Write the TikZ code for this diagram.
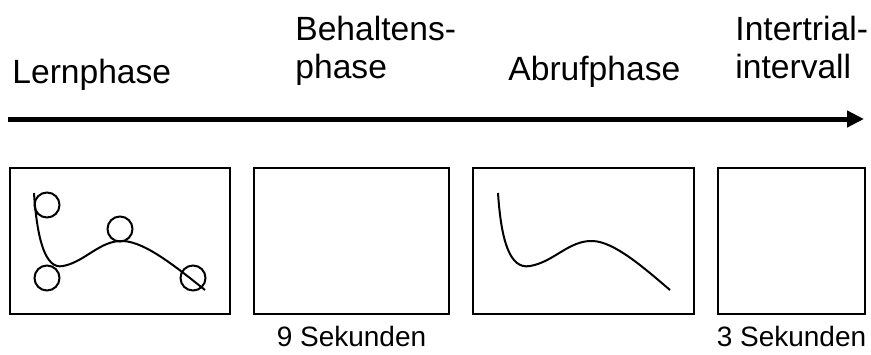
\documentclass[tikz,border=0pt]{standalone}
\usepackage{fontspec}
\setmainfont{Liberation Sans}
\usetikzlibrary{arrows.meta}

\tikzset{
	frame/.style={draw,line width=1pt,inner sep=0pt,minimum height=72.75pt},
	phase/.style={anchor=north west,align=left,inner sep=0pt,font=\fontsize{16.8}{19}\selectfont},
	dauer/.style={anchor=base,inner sep=0pt,font=\fontsize{14}{16}\selectfont},
	marke/.style={draw,circle,line width=1pt,minimum size=12.5pt,inner sep=0pt},
	verlauf/.style={line width=1pt}
}

\begin{document}
\begin{tikzpicture}[x=0.5pt,y=-0.5pt]
	\useasboundingbox (0,0) rectangle (871,354);
	
	% Phasen
	\node[phase] (lern) at (12,59) {Lernphase};
	\node[phase] (behalt) at (295,16) {Behaltens-\\phase};
	\node[phase] (abruf) at (508,56) {Abrufphase};
	\node[phase] (iti) at (735,16) {Intertrial-\\intervall};
	
	% Zeitachse
	\coordinate (t0) at (8,119);
	\coordinate (t1) at (864,119);
	\draw[line width=2.5pt,-{Triangle[length=8.5pt,width=8pt]}] (t0) -- (t1);
	
	% Bildschirme
	\node[frame,minimum width=110.25pt] (s1) at (120,241) {};
	\node[frame,minimum width=97.5pt] (s2) at (351.5,241) {};
	\node[frame,minimum width=110.5pt] (s3) at (583.5,241) {};
	\node[frame,minimum width=73.5pt] (s4) at (791.5,241) {};
	
	\draw[verlauf] (34,193) .. controls (37,238) and (45,270) .. (63,266)
		.. controls (85,262) and (100,240) .. (123,241)
		.. controls (145,242) and (175,266) .. (205,290);
	\node[marke] (m1) at (47,205) {};
	\node[marke] (m2) at (120,229) {};
	\node[marke] (m3) at (47,278) {};
	\node[marke] (m4) at (193,278) {};
	
	\begin{scope}[xshift=232pt]
		\draw[verlauf] (34,193) .. controls (37,238) and (45,270) .. (66,266)
			.. controls (90,262) and (105,240) .. (129,241)
			.. controls (150,242) and (178,266) .. (206,290);
	\end{scope}
	
	% Dauer
	\node[dauer] (d2) at (351.5,346) {9 Sekunden};
	\node[dauer] (d4) at (791.5,346) {3 Sekunden};
\end{tikzpicture}
\end{document}
